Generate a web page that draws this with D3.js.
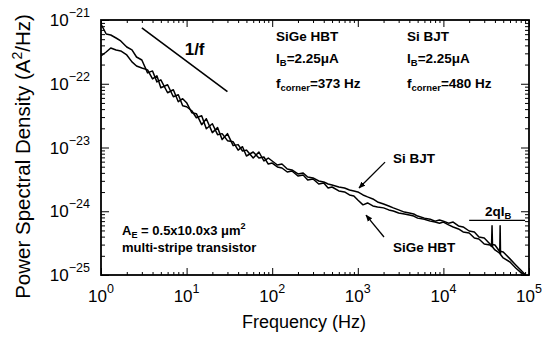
<!DOCTYPE html>
<html>
<head>
<meta charset="utf-8">
<script src="https://cdn.jsdelivr.net/npm/d3@7"></script>
<style>
  body { margin: 0; background: #fff; }
  svg { display: block; }
</style>
</head>
<body>
<svg id="chart" width="544" height="337"></svg>
<script>
// frequency grid (Hz) shared by the Si BJT trace
const freq = [
  1, 1.15, 1.3, 1.5, 1.7, 2, 2.3, 2.6, 3, 3.5, 4, 4.5, 5, 6, 7, 8, 9,
  10, 11.5, 13, 15, 17, 20, 23, 26, 30, 35, 40, 45, 50, 60, 70, 80, 90,
  100, 115, 130, 150, 170, 200, 230, 260, 300, 350, 400, 450, 500, 600, 700, 800, 900,
  1000, 1150, 1300, 1500, 1700, 2000, 2300, 2600, 3000, 3500, 4000, 4500, 5000, 6000, 7000, 8000, 9000,
  10000, 11500, 13000, 15000, 17000, 20000, 23000, 26000, 30000, 35000, 40000, 45000, 50000, 60000, 70000, 80000, 90000
];

// Si BJT noise PSD (A^2/Hz)
const bjtPsd = [
  8.66e-22, 6.03e-22, 5.82e-22, 5.22e-22, 4.69e-22, 3.77e-22, 3.39e-22, 2.63e-22, 2.36e-22, 1.48e-22, 1.59e-22, 1.07e-22, 1.15e-22, 7.23e-23, 8.05e-23, 5.22e-23, 5.82e-23,
  5.04e-23, 3.51e-23, 3.39e-23, 2.28e-23, 2.83e-23, 1.71e-23, 2.05e-23, 1.33e-23, 1.65e-23, 1.07e-23, 1.11e-23, 8.8e-24, 9.1e-24, 6.84e-24, 8.5e-24, 6.14e-24, 6.84e-24,
  6.14e-24, 5.31e-24, 5.5e-24, 4.60e-24, 4.44e-24, 3.84e-24, 3.98e-24, 3.45e-24, 3.33e-24, 2.98e-24, 2.88e-24, 2.68e-24, 2.58e-24, 2.40e-24, 2.32e-24, 2.16e-24, 2.08e-24,
  2.01e-24, 1.80e-24, 1.68e-24, 1.56e-24, 1.40e-24, 1.30e-24, 1.21e-24, 1.13e-24, 1.05e-24, 9.7e-25, 9.4e-25, 9.05e-25, 8.4e-25, 7.8e-25, 7.5e-25, 7.0e-25, 7.3e-25,
  7.0e-25, 6.5e-25, 6.77e-25, 5.88e-25, 5.67e-25, 4.90e-25, 4.73e-25, 3.95e-25, 3.81e-25, 3.07e-25, 2.96e-25, 2.38e-25, 2.30e-25, 1.79e-25, 1.44e-25, 1.20e-25, 1.02e-25
];

// SiGe HBT has two interference spikes near 37 kHz and 46 kHz
const hbtFreq = [
  1, 1.15, 1.3, 1.5, 1.7, 2, 2.3, 2.6, 3, 3.5, 4, 4.5, 5, 6, 7, 8, 9,
  10, 11.5, 13, 15, 17, 20, 23, 26, 30, 35, 40, 45, 50, 60, 70, 80, 90,
  100, 115, 130, 150, 170, 200, 230, 260, 300, 350, 400, 450, 500, 600, 700, 800, 900,
  1000, 1150, 1300, 1500, 1700, 2000, 2300, 2600, 3000, 3500, 4000, 4500, 5000, 6000, 7000, 8000, 9000,
  10000, 11500, 13000, 15000, 17000, 20000, 23000, 26000, 30000, 35000, 36500, 37000, 37500, 40000,
  45000, 45500, 46000, 46500, 50000, 60000, 70000, 80000, 90000
];

const hbtPsd = [
  2.73e-22, 3.15e-22, 3.64e-22, 3.39e-22, 3.27e-22, 2.83e-22, 2.20e-22, 1.90e-22, 1.77e-22, 1.65e-22, 1.19e-22, 1.33e-22, 8.66e-23, 9.65e-23, 6.26e-23, 6.72e-23, 4.52e-23,
  4.36e-23, 3.77e-23, 2.93e-23, 3.15e-23, 1.97e-23, 2.36e-23, 1.59e-23, 1.65e-23, 1.28e-23, 1.23e-23, 9.1e-24, 1.03e-23, 7.36e-24, 8.5e-24, 6.84e-24, 7.1e-24, 5.5e-24,
  5.7e-24, 4.95e-24, 4.77e-24, 4.13e-24, 4.28e-24, 3.57e-24, 3.70e-24, 3.10e-24, 3.21e-24, 2.68e-24, 2.78e-24, 2.32e-24, 2.40e-24, 2.08e-24, 2.01e-24, 1.80e-24, 1.74e-24,
  1.50e-24, 1.26e-24, 1.35e-24, 1.21e-24, 1.17e-24, 1.13e-24, 1.05e-24, 1.01e-24, 9.4e-25, 9.05e-25, 8.7e-25, 8.4e-25, 7.8e-25, 7.5e-25, 7.0e-25, 6.77e-25, 6.5e-25,
  6.77e-25, 6.1e-25, 5.67e-25, 5.27e-25, 4.73e-25, 4.56e-25, 3.81e-25, 3.67e-25, 3.07e-25, 2.96e-25, 2.8e-25, 5.9e-25, 2.75e-25, 2.47e-25,
  2.22e-25, 2.15e-25, 5.9e-25, 2.1e-25, 1.85e-25, 1.60e-25, 1.29e-25, 1.10e-25, 1.0e-25
];

// reference lines
const oneOverF = [[3, 7.5e-22], [30, 7.5e-23]];
const shotNoise = [[2e4, 7.2e-25], [9e4, 7.2e-25]];   // 2qI_B

const xDecades = [0, 1, 2, 3, 4, 5];
const yDecades = [-21, -22, -23, -24, -25];

const margin = { top: 20, right: 15, bottom: 62, left: 101 };
const width = 544 - margin.left - margin.right;
const height = 337 - margin.top - margin.bottom;

const svg = d3.select('#chart');
const font = '"Liberation Sans", Arial, sans-serif';

const defs = svg.append('defs');
defs.append('clipPath').attr('id', 'clip')
  .append('rect').attr('width', width).attr('height', height);
defs.append('marker')
  .attr('id', 'arrow')
  .attr('viewBox', '0 0 10 10')
  .attr('refX', 9).attr('refY', 5)
  .attr('markerWidth', 7).attr('markerHeight', 7)
  .attr('markerUnits', 'userSpaceOnUse')
  .attr('orient', 'auto')
  .append('path').attr('d', 'M0,1 L10,5 L0,9 Z').attr('fill', '#000');

const g = svg.append('g').attr('transform', `translate(${margin.left},${margin.top})`);

const x = d3.scaleLog().domain([1, 1e5]).range([0, width]);
const y = d3.scaleLog().domain([1e-25, 1e-21]).range([height, 0]);

const xMajor = xDecades.map((k) => Math.pow(10, k));
const yMajor = yDecades.map((k) => Math.pow(10, k));
const xMinor = d3.range(0, 5).flatMap((k) => d3.range(2, 10).map((m) => m * Math.pow(10, k)));
const yMinor = d3.range(-25, -21).flatMap((k) => d3.range(2, 10).map((m) => m * Math.pow(10, k)));

// inward ticks on all four sides
function ticks(axis, values, size, transform) {
  const a = g.append('g')
    .attr('transform', transform || null)
    .call(axis.tickValues(values).tickSize(-size).tickFormat(''));
  a.select('.domain').remove();
  a.selectAll('line').attr('stroke', '#000').attr('stroke-width', 1);
}
ticks(d3.axisBottom(x), xMinor, 3, `translate(0,${height})`);
ticks(d3.axisBottom(x), xMajor, 7, `translate(0,${height})`);
ticks(d3.axisTop(x), xMinor, 3);
ticks(d3.axisTop(x), xMajor, 7);
ticks(d3.axisLeft(y), yMinor, 4);
ticks(d3.axisLeft(y), yMajor, 8);
ticks(d3.axisRight(y), yMinor, 4, `translate(${width},0)`);
ticks(d3.axisRight(y), yMajor, 8, `translate(${width},0)`);

g.append('rect')
  .attr('width', width).attr('height', height)
  .attr('fill', 'none').attr('stroke', '#000').attr('stroke-width', 1.8);

// tick labels: 10 with superscript exponent
const xl = g.append('g').attr('font-family', font).attr('fill', '#000');
xDecades.forEach((k) => {
  const t = xl.append('text')
    .attr('x', x(Math.pow(10, k))).attr('y', height + 27)
    .attr('text-anchor', 'middle').attr('font-size', 17);
  t.append('tspan').text('10');
  t.append('tspan').attr('dy', -9).attr('font-size', 12.5).text(k);
});
yDecades.forEach((k) => {
  const t = xl.append('text')
    .attr('x', -11).attr('y', y(Math.pow(10, k)) + 6)
    .attr('text-anchor', 'end').attr('font-size', 17);
  t.append('tspan').text('10');
  t.append('tspan').attr('dy', -9).attr('font-size', 12.5).text('\u2212' + Math.abs(k));
});

svg.append('text')
  .attr('x', margin.left + width / 2 - 11).attr('y', 328)
  .attr('text-anchor', 'middle')
  .attr('font-family', font).attr('font-size', 18)
  .text('Frequency (Hz)');

const yt = svg.append('text')
  .attr('transform', `translate(30,${margin.top + height / 2 + 9}) rotate(-90)`)
  .attr('text-anchor', 'middle')
  .attr('font-family', font).attr('font-size', 20.5);
yt.append('tspan').text('Power Spectral Density (A');
yt.append('tspan').attr('dy', -8).attr('font-size', 14).text('2');
yt.append('tspan').attr('dy', 8).text('/Hz)');

// traces
const line = d3.line().x((d) => x(d[0])).y((d) => y(d[1]));
const traces = g.append('g').attr('clip-path', 'url(#clip)');
traces.append('path')
  .datum(d3.zip(hbtFreq, hbtPsd))
  .attr('fill', 'none').attr('stroke', '#000')
  .attr('stroke-width', 1.5).attr('stroke-linejoin', 'round')
  .attr('d', line);
traces.append('path')
  .datum(d3.zip(freq, bjtPsd))
  .attr('fill', 'none').attr('stroke', '#000')
  .attr('stroke-width', 1.5).attr('stroke-linejoin', 'round')
  .attr('d', line);

g.append('path').datum(oneOverF)
  .attr('fill', 'none').attr('stroke', '#000').attr('stroke-width', 1.6)
  .attr('d', line);
g.append('path').datum(shotNoise)
  .attr('fill', 'none').attr('stroke', '#000').attr('stroke-width', 1.4)
  .attr('d', line);

// arrows to the traces
[[[2080, 5.9e-24], [1033, 2.32e-24]], [[2023, 3.95e-25], [1247, 8.7e-25]]].forEach((a) => {
  g.append('path').datum(a)
    .attr('fill', 'none').attr('stroke', '#000').attr('stroke-width', 1.3)
    .attr('marker-end', 'url(#arrow)')
    .attr('d', line);
});

// text with sub/superscripts: parts are [text, 'sub' | 'sup' | undefined]
function richText(f, p, parts, size) {
  const t = g.append('text')
    .attr('x', x(f)).attr('y', y(p))
    .attr('font-family', font).attr('font-weight', 'bold')
    .attr('font-size', size);
  let shift = 0;
  parts.forEach(([s, mode]) => {
    const target = mode === 'sub' ? 3 : mode === 'sup' ? -6 : 0;
    const ts = t.append('tspan').attr('dy', target - shift).text(s);
    if (mode) ts.attr('font-size', size * 0.7);
    shift = target;
  });
  return t;
}

richText(9.5, 2.83e-22, [['1/f']], 17);
richText(111, 4.69e-22, [['SiGe HBT']], 13.5);
richText(111, 2.12e-22, [['I'], ['B', 'sub'], ['=2.25\u03bcA']], 13.5);
richText(111, 8.6e-23, [['f'], ['corner', 'sub'], ['=373 Hz']], 13.5);
richText(3760, 4.69e-22, [['Si BJT']], 13.5);
richText(3760, 2.12e-22, [['I'], ['B', 'sub'], ['=2.25\u03bcA']], 13.5);
richText(3760, 8.6e-23, [['f'], ['corner', 'sub'], ['=480 Hz']], 13.5);
richText(2580, 5.7e-24, [['Si BJT']], 13.5);
richText(2580, 2.3e-25, [['SiGe HBT']], 13.5);
richText(3.06e4, 8.4e-25, [['2qI'], ['B', 'sub']], 13.5);
richText(1.76, 4.3e-25, [['A'], ['E', 'sub'], [' = 0.5x10.0x3 \u03bcm'], ['2', 'sup']], 13);
richText(1.76, 2.3e-25, [['multi-stripe transistor']], 13);
</script>
</body>
</html>
